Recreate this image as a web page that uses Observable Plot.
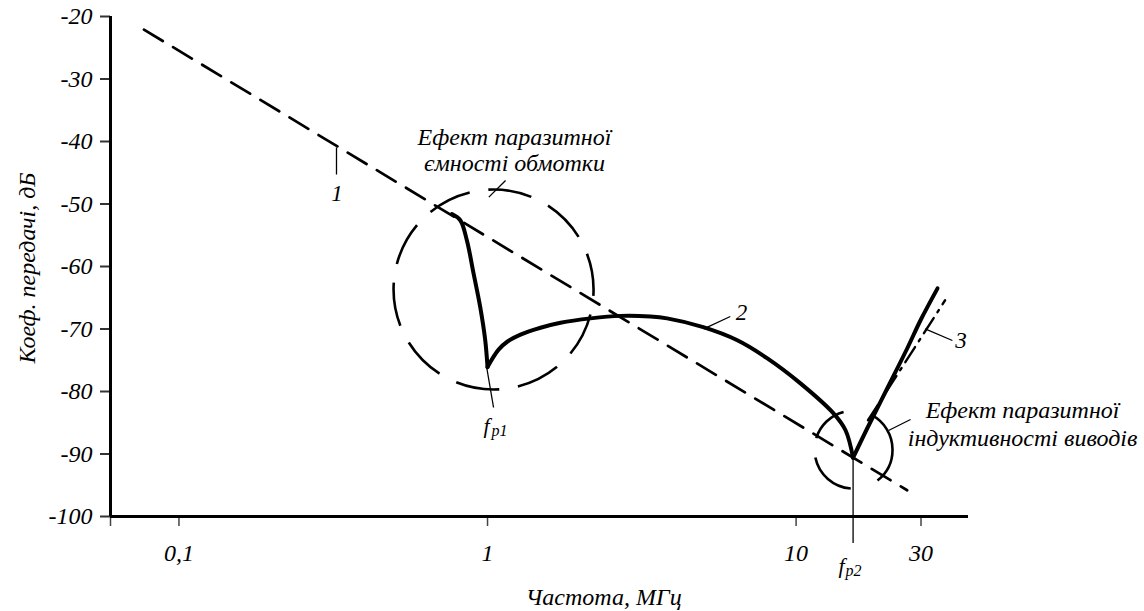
<!DOCTYPE html>
<html>
<head>
<meta charset="utf-8">
<script src="https://cdn.jsdelivr.net/npm/d3@7"></script>
<script src="https://cdn.jsdelivr.net/npm/@observablehq/plot@0.6"></script>
<style>
  body { margin: 0; background: #fff; }
</style>
</head>
<body>
<div id="chart"></div>
<script>
// Axes: frequency (MHz, log) and transfer coefficient (dB)
const freqDomain = [0.06, 36.2];
const gainDomain = [-100, -20];
const freqTicks = [0.06, 0.1, 1, 10, 25.4];
const freqTickLabels = ["", "0,1", "1", "10", "30"];
const gainTicks = [-100, -90, -80, -70, -60, -50, -40, -30, -20];
const xTitle = "Частота, МГц";
const yTitle = "Коеф. передачі, дБ";

// Curve 1: ideal capacitor (straight on a log frequency axis)
const curve1 = [
  {f: 0.077, db: -22.1},
  {f: 22.9, db: -95.8}
];

// Curve 2: real component, split at the two resonances
const curve2 = [
  {seg: "a", f: 0.767, db: -51.6},
  {seg: "a", f: 0.816, db: -52.6},
  {seg: "a", f: 0.857, db: -55.8},
  {seg: "a", f: 0.901, db: -61.1},
  {seg: "a", f: 0.947, db: -66.5},
  {seg: "a", f: 0.983, db: -71.8},
  {seg: "a", f: 1.0, db: -76.1},
  {seg: "b", f: 1.0, db: -76.1},
  {seg: "b", f: 1.038, db: -74.7},
  {seg: "b", f: 1.086, db: -73.3},
  {seg: "b", f: 1.161, db: -72.0},
  {seg: "b", f: 1.279, db: -70.9},
  {seg: "b", f: 1.485, db: -69.8},
  {seg: "b", f: 1.724, db: -69.0},
  {seg: "b", f: 2.157, db: -68.3},
  {seg: "b", f: 2.698, db: -67.9},
  {seg: "b", f: 3.37, db: -68.0},
  {seg: "b", f: 3.82, db: -68.3},
  {seg: "b", f: 5.0, db: -69.7},
  {seg: "b", f: 6.45, db: -71.8},
  {seg: "b", f: 8.07, db: -74.7},
  {seg: "b", f: 10.33, db: -78.7},
  {seg: "b", f: 13.22, db: -83.5},
  {seg: "b", f: 14.46, db: -86.2},
  {seg: "b", f: 15.3, db: -90.6},
  {seg: "c", f: 15.3, db: -90.6},
  {seg: "c", f: 17.04, db: -85.8},
  {seg: "c", f: 19.79, db: -79.4},
  {seg: "c", f: 22.97, db: -73.0},
  {seg: "c", f: 25.31, db: -68.6},
  {seg: "c", f: 28.73, db: -63.5}
];

// Curve 3: lead inductance asymptote (dash-dot)
const curve3 = [
  {f: 17.1, db: -84.6},
  {f: 30.4, db: -65.4}
];

// Highlight circles around the two effects
const bigCircle = [{f: 1.046, db: -63.68}];
const smallCircle = [{f: 15.35, db: -89.3}];

// Resonance frequency f_p2 marker
const fp2 = 15.3;

// Annotation texts
const noteLines = [
  {text: "Ефект паразитної", f: 1.223, db: -40.48},
  {text: "ємності обмотки", f: 1.223, db: -44.64},
  {text: "Ефект паразитної", f: 54.2, db: -84.16},
  {text: "індуктивності виводів", f: 54.2, db: -88.64}
];
const curveLabels = [
  {text: "1", f: 0.325, db: -49.44},
  {text: "2", f: 6.65, db: -68.48},
  {text: "3", f: 34.2, db: -72.96}
];
const leaders = [
  {f1: 0.324, db1: -40.96, f2: 0.324, db2: -45.28},
  {f1: 5.02, db1: -69.97, f2: 6.12, db2: -68.0},
  {f1: 26.2, db1: -69.97, f2: 32.1, db2: -71.84},
  {f1: 1.0097, db1: -48.9, f2: 1.144, db2: -46.24},
  {f1: 0.9926, db1: -76.0, f2: 1.046, db2: -82.56},
  {f1: 19.93, db1: -86.24, f2: 23.49, db2: -84.48}
];
const resonanceLabels = [
  {main: "f", sub: "p1", f: 0.9706, fSub: 1.030, db: -86.56, dbSub: -87.04},
  {main: "f", sub: "p2", f: 13.72, fSub: 14.46, db: -108.96, dbSub: -109.44}
];
const xTitleRow = [{text: xTitle, f: 2.38, db: -114.08}];
const yTitleRow = [{text: yTitle, f: 0.0323, db: -60.24}];

const serif = "'Liberation Serif', serif";

const chart = Plot.plot({
  width: 1144,
  height: 611,
  marginLeft: 110,
  marginRight: 176,
  marginTop: 16,
  marginBottom: 95,
  style: "background: white; color: black; font-size: 24px; font-style: italic;",
  x: {type: "log", domain: freqDomain},
  y: {domain: gainDomain},
  marks: [
    // axes
    Plot.axisY({ticks: gainTicks, tickSize: 10, tickPadding: 8, tickFormat: d => String(d), label: null, stroke: "#333", strokeWidth: 2, fontSize: 24}),
    Plot.axisX({ticks: freqTicks, tickSize: 10, tickPadding: 17, tickFormat: d => freqTickLabels[freqTicks.indexOf(d)] ?? "", label: null, stroke: "#444", strokeWidth: 1.5, fontSize: 24}),
    Plot.ruleX([freqDomain[0]], {y1: gainDomain[0], y2: gainDomain[1], strokeWidth: 3}),
    Plot.ruleY([gainDomain[0]], {x1: freqDomain[0], x2: freqDomain[1], strokeWidth: 3}),

    // f_p2 marker line
    Plot.ruleX([fp2], {y1: -90.6, y2: -104.3, strokeWidth: 1.3}),

    // circles
    Plot.dot(bigCircle, {x: "f", y: "db", r: 100, stroke: "black", fill: "none", strokeWidth: 2.6, strokeDasharray: "44,18.83", strokeDashoffset: 37.5}),
    Plot.dot(smallCircle, {x: "f", y: "db", r: 39, stroke: "black", fill: "none", strokeWidth: 2.6, strokeDasharray: "35.4,28.6,50.3,19.7,39.4,28.6,42.8,0"}),

    // curves
    Plot.line(curve1, {x: "f", y: "db", stroke: "black", strokeWidth: 2.7, strokeDasharray: "22,12"}),
    Plot.line(curve3, {x: "f", y: "db", stroke: "black", strokeWidth: 2.4, strokeDasharray: "18,7,2.5,7"}),
    Plot.line(curve2, {x: "f", y: "db", z: "seg", stroke: "black", strokeWidth: 4, curve: "catmull-rom", strokeLinecap: "round", strokeLinejoin: "round"}),

    // leader lines
    Plot.link(leaders, {x1: "f1", y1: "db1", x2: "f2", y2: "db2", stroke: "black", strokeWidth: 1.3}),

    // texts
    Plot.text(noteLines, {x: "f", y: "db", text: "text", textAnchor: "middle", lineAnchor: "bottom", fontSize: 24}),
    Plot.text(curveLabels, {x: "f", y: "db", text: "text", textAnchor: "middle", lineAnchor: "bottom", fontSize: 23}),
    Plot.text(resonanceLabels, {x: "f", y: "db", text: "main", textAnchor: "start", lineAnchor: "bottom", fontSize: 22}),
    Plot.text(resonanceLabels, {x: "fSub", y: "dbSub", text: "sub", textAnchor: "start", lineAnchor: "bottom", fontSize: 16}),
    Plot.text(xTitleRow, {x: "f", y: "db", text: "text", textAnchor: "middle", lineAnchor: "bottom", fontSize: 24}),
    Plot.text(yTitleRow, {x: "f", y: "db", text: "text", rotate: -90, textAnchor: "middle", lineAnchor: "middle", fontSize: 24})
  ]
});

// serif italic face for every label
d3.select(chart).attr("font-family", serif);
d3.select(chart).selectAll("g, text").attr("font-family", serif);
d3.select(chart).selectAll("text").style("font-family", serif).style("font-style", "italic");

document.getElementById("chart").appendChild(chart);
</script>
</body>
</html>
